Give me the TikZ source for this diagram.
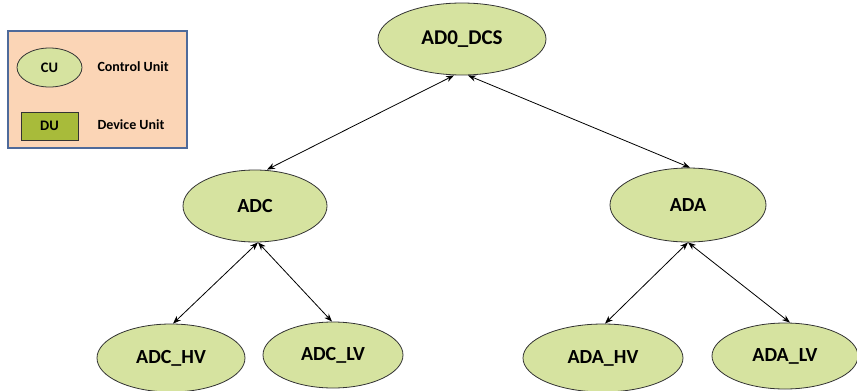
\documentclass[tikz,border=0pt]{standalone}
\usepackage{fontspec}
\setmainfont{Carlito}
\usetikzlibrary{shapes.geometric,arrows.meta}
\definecolor{cufill}{RGB}{214,227,160}
\definecolor{dufill}{RGB}{168,187,58}
\definecolor{legfill}{RGB}{251,213,182}
\definecolor{legline}{RGB}{78,106,154}
\begin{document}
\begin{tikzpicture}[x=1pt,y=-1pt,
        cu/.style={ellipse,draw=black!80,line width=0.8pt,fill=cufill,inner sep=0pt,
            font=\fontsize{20}{24}\selectfont\bfseries},
        link/.style={{Stealth[length=8pt,width=6pt]}-{Stealth[length=8pt,width=6pt]},line width=0.8pt}
    ]
    \useasboundingbox (0,0) rectangle (857,391);

    % legend
    \draw [legline,line width=1.2pt,fill=legfill] (8,31) rectangle (187,148);
    \begin{scope}[every node/.style={font=\fontsize{14}{16}\selectfont\bfseries}]
        \node [cu,minimum width=65pt,minimum height=39pt,font=\fontsize{14.5}{16}\selectfont\bfseries] (legcu) at (49.5,67.5) {CU};
        \node [draw=black!80,line width=0.8pt,fill=dufill,minimum width=57pt,minimum height=28pt,inner sep=0pt,
            font=\fontsize{14.5}{16}\selectfont\bfseries] (legdu) at (49.5,126) {DU};
        \node [anchor=west] (legcutext) at (94,67) {Control Unit};
        \node [anchor=west] (legdutext) at (94,125) {Device Unit};
    \end{scope}

    % tree
    \node [cu,minimum width=168pt,minimum height=72pt,font=\fontsize{21}{24}\selectfont\bfseries] (ad0dcs) at (462,39) {AD0\_DCS};
    \node [cu,minimum width=144pt,minimum height=72pt] (adc) at (255,206) {ADC};
    \node [cu,minimum width=156pt,minimum height=74pt] (ada) at (688,205) {ADA};

    \node [cu,minimum width=148pt,minimum height=68pt] (adchv) at (171,358) {ADC\_HV};
    \node [cu,minimum width=140pt,minimum height=66pt] (adclv) at (333,355) {ADC\_LV};
    \node [cu,minimum width=160pt,minimum height=68pt] (adahv) at (603,358) {ADA\_HV};
    \node [cu,minimum width=146pt,minimum height=66pt] (adalv) at (785,356) {ADA\_LV};

    \draw [link] ([xshift=-8pt]ad0dcs.south) -- ([xshift=12pt]adc.north);
    \draw [link] ([xshift=6pt]ad0dcs.south) -- ([xshift=2pt]ada.north);

    \draw [link] ([xshift=3pt]adc.south) -- ([xshift=2pt]adchv.north);
    \draw [link] ([xshift=3pt]adc.south) -- ([xshift=-1pt]adclv.north);
    \draw [link] (ada.south) -- ([xshift=2pt]adahv.north);
    \draw [link] (ada.south) -- ([xshift=5pt]adalv.north);
\end{tikzpicture}
\end{document}
